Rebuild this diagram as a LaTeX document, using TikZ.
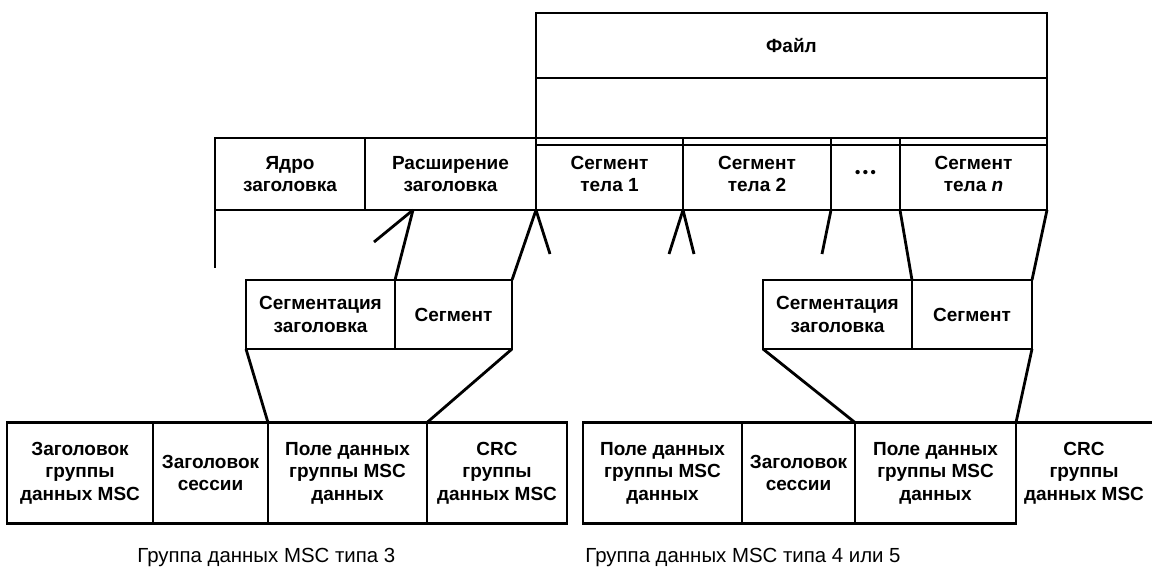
\documentclass[tikz,border=0pt]{standalone}
\usepackage{fontspec}
\setmainfont{Liberation Sans}
\usetikzlibrary{calc}
\begin{document}
\begin{tikzpicture}[x=0.5pt,y=-0.5pt,
  ln/.style={line width=1.4pt},
  cell/.style={draw, line width=1.4pt, inner sep=0pt, outer sep=0pt, align=center,
    font=\bfseries\fontsize{9.5}{11.2}\selectfont},
  lbl/.style={inner sep=0pt, outer sep=0pt, align=center, font=\bfseries\fontsize{9.5}{11.2}\selectfont},
  captxt/.style={inner sep=0pt, anchor=west, font=\fontsize{10.2}{11}\selectfont}]
\useasboundingbox (0,0) rectangle (1152,569);
% file
\node[cell, minimum width=255.5pt, minimum height=32.5pt] (fileTop) at (791.5,45.5) {Файл};
\node[cell, minimum width=255.5pt, minimum height=30pt] (fileBot) at (791.5,108) {};
% header row
\node[cell, minimum width=75pt, minimum height=36pt] (yadro) at (290,174) {Ядро\\заголовка};
\node[cell, minimum width=85.5pt, minimum height=36pt] (rash) at (450.5,174) {Расширение\\заголовка};
\node[cell, minimum width=73.5pt, minimum height=36pt] (seg1) at (609.5,174) {Сегмент\\тела 1};
\node[cell, minimum width=74pt, minimum height=36pt] (seg2) at (757,174) {Сегмент\\тела 2};
\node[cell, minimum width=34.5pt, minimum height=36pt, font=\bfseries\fontsize{7.5}{8}\selectfont] (dots) at (865.5,174) {•\,•\,•};
\node[cell, minimum width=73.5pt, minimum height=36pt] (segn) at (973.5,174) {Сегмент\\тела \textit{n}};
\draw[ln] ($(seg1.north west)+(0,7)$) -- ($(segn.north east)+(0,7)$);
% middle rows
\node[cell, minimum width=74.5pt, minimum height=34.5pt] (mzl) at (320.5,314.5) {Сегментация\\заголовка};
\node[cell, minimum width=58.5pt, minimum height=34.5pt] (msl) at (453.5,314.5) {Сегмент};
\node[cell, minimum width=74.5pt, minimum height=34.5pt] (mzr) at (837.5,314.5) {Сегментация\\заголовка};
\node[cell, minimum width=60pt, minimum height=34.5pt] (msr) at (972,314.5) {Сегмент};
% bottom left group
\node[cell, minimum width=73pt, minimum height=50.5pt] (b1) at (80,473) {Заголовок\\группы\\данных MSC};
\node[cell, minimum width=57.5pt, minimum height=50.5pt] (b2) at (210.5,473) {Заголовок\\сессии};
\node[cell, minimum width=79.5pt, minimum height=50.5pt] (b3) at (347.5,473) {Поле данных\\группы MSC\\данных};
\node[cell, minimum width=70pt, minimum height=50.5pt] (b4) at (497,473) {CRC\\группы\\данных MSC};
% bottom right group
\node[cell, minimum width=79.5pt, minimum height=50.5pt] (r1) at (662.5,473) {Поле данных\\группы MSC\\данных};
\node[cell, minimum width=56.5pt, minimum height=50.5pt] (r2) at (798.5,473) {Заголовок\\сессии};
\node[cell, minimum width=80.5pt, minimum height=50.5pt] (r3) at (935.5,473) {Поле данных\\группы MSC\\данных};
\node[lbl] (r4) at (1084,473) {CRC\\группы\\данных MSC};
\coordinate (rend) at (1152,422.5);
\draw[ln] (r3.north east) -- (rend);
% captions
\node[captxt] (cap1) at (137,557) {Группа данных MSC типа 3};
\node[captxt] (cap2) at (585,557) {Группа данных MSC типа 4 или 5};
% connectors
\coordinate (lfree) at (215,268);
\coordinate (p1) at (413,210);
\coordinate (f1) at (374,242);
\coordinate (f2) at (550,254);
\coordinate (f3) at (669,254);
\coordinate (f4) at (694,254);
\coordinate (f5) at (822,254);
\draw[ln] (yadro.south west) -- (lfree);
\draw[ln] (p1) -- (mzl.north east);
\draw[ln] (p1) -- (f1);
\draw[ln] (rash.south east) -- (msl.north east);
\draw[ln] (rash.south east) -- (f2);
\draw[ln] (seg1.south east) -- (f3);
\draw[ln] (seg1.south east) -- (f4);
\draw[ln] (seg2.south east) -- (f5);
\draw[ln] (segn.south west) -- (mzr.north east);
\draw[ln] (segn.south east) -- (msr.north east);
\draw[ln] (mzl.south west) -- (b3.north west);
\draw[ln] (msl.south east) -- (b3.north east);
\draw[ln] (mzr.south west) -- (r3.north west);
\draw[ln] (msr.south east) -- (r3.north east);
\end{tikzpicture}
\end{document}
